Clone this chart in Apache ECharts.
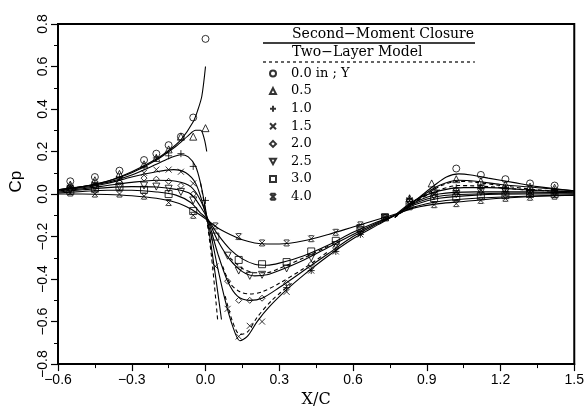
<!DOCTYPE html>
<html>
<head>
<meta charset="utf-8">
<script src="https://cdn.jsdelivr.net/npm/echarts@6/dist/echarts.min.js"></script>
<style>
  html, body { margin: 0; padding: 0; background: #fff; }
  #chart { width: 587px; height: 413px; }
</style>
</head>
<body>
<div id="chart"></div>
<script>
// legend labels (spanwise station Y)
const stationNames = ['0.0 in ; Y', '0.5', '1.0', '1.5', '2.0', '2.5', '3.0', '4.0']

// measured Cp, [x/c, cp]
const expY00 = [[-0.55, 0.06], [-0.45, 0.08], [-0.35, 0.11], [-0.25, 0.16], [-0.2, 0.19], [-0.15, 0.23], [-0.1, 0.27], [-0.05, 0.36], [0.0, 0.73], [1.02, 0.12], [1.12, 0.09], [1.22, 0.07], [1.32, 0.05], [1.42, 0.04]]
const expY05 = [[-0.55, 0.045], [-0.45, 0.065], [-0.35, 0.095], [-0.25, 0.14], [-0.2, 0.17], [-0.15, 0.21], [-0.1, 0.27], [-0.05, 0.27], [0.0, 0.31], [0.83, -0.02], [0.92, 0.05], [1.02, 0.07], [1.12, 0.06], [1.22, 0.045], [1.32, 0.035], [1.42, 0.03]]
const expY10 = [[-0.55, 0.04], [-0.45, 0.055], [-0.35, 0.08], [-0.25, 0.13], [-0.2, 0.17], [-0.15, 0.18], [-0.1, 0.19], [-0.05, 0.13], [0.0, -0.03], [0.33, -0.44], [0.43, -0.36], [0.53, -0.27], [0.63, -0.19], [0.73, -0.11], [0.83, -0.02], [0.93, 0.02], [1.02, 0.03], [1.12, 0.04], [1.22, 0.03], [1.32, 0.02], [1.42, 0.02]]
const expY15 = [[-0.55, 0.03], [-0.45, 0.045], [-0.35, 0.07], [-0.25, 0.1], [-0.2, 0.115], [-0.15, 0.115], [-0.1, 0.105], [-0.05, 0.05], [0.04, -0.34], [0.09, -0.54], [0.135, -0.67], [0.18, -0.62], [0.23, -0.6], [0.33, -0.46], [0.43, -0.36], [0.53, -0.27], [0.63, -0.19], [0.73, -0.11], [0.83, -0.03], [0.93, 0.0], [1.02, 0.01], [1.12, 0.02], [1.22, 0.015], [1.32, 0.01], [1.42, 0.01]]
const expY20 = [[-0.55, 0.025], [-0.45, 0.04], [-0.35, 0.055], [-0.25, 0.075], [-0.2, 0.07], [-0.15, 0.06], [-0.1, 0.04], [-0.05, 0.0], [0.09, -0.41], [0.135, -0.5], [0.18, -0.5], [0.23, -0.49], [0.33, -0.42], [0.43, -0.33], [0.53, -0.25], [0.63, -0.18], [0.73, -0.11], [0.83, -0.03], [0.93, 0.01], [1.02, 0.02], [1.12, 0.03], [1.22, 0.02], [1.32, 0.015], [1.42, 0.01]]
const expY25 = [[-0.55, 0.02], [-0.45, 0.03], [-0.35, 0.035], [-0.25, 0.04], [-0.2, 0.035], [-0.15, 0.025], [-0.1, 0.01], [-0.05, -0.03], [0.09, -0.29], [0.135, -0.36], [0.18, -0.385], [0.23, -0.38], [0.33, -0.35], [0.43, -0.3], [0.53, -0.24], [0.63, -0.17], [0.73, -0.11], [0.83, -0.04], [0.93, -0.01], [1.02, 0.0], [1.12, 0.01], [1.22, 0.01], [1.32, 0.005], [1.42, 0.005]]
const expY30 = [[-0.55, 0.015], [-0.45, 0.025], [-0.35, 0.035], [-0.25, 0.02], [-0.15, 0.0], [-0.05, -0.08], [0.04, -0.2], [0.135, -0.31], [0.23, -0.33], [0.33, -0.32], [0.43, -0.27], [0.53, -0.22], [0.63, -0.16], [0.73, -0.11], [0.83, -0.05], [0.93, -0.02], [1.02, -0.015], [1.12, -0.01], [1.22, -0.005], [1.32, 0.0], [1.42, 0.0]]
const expY40 = [[-0.55, 0.005], [-0.45, 0.0], [-0.35, 0.0], [-0.25, -0.01], [-0.15, -0.04], [-0.05, -0.1], [0.04, -0.15], [0.135, -0.2], [0.23, -0.23], [0.33, -0.23], [0.43, -0.21], [0.53, -0.18], [0.63, -0.145], [0.73, -0.11], [0.83, -0.06], [0.93, -0.05], [1.02, -0.045], [1.12, -0.03], [1.22, -0.02], [1.32, -0.015], [1.42, -0.01]]

// second-moment closure (solid)
const smcY00a = [[-0.6, 0.02], [-0.5, 0.035], [-0.4, 0.06], [-0.3, 0.105], [-0.2, 0.165], [-0.15, 0.205], [-0.1, 0.255], [-0.05, 0.34], [-0.03, 0.4], [-0.015, 0.46], [0.0, 0.6]]
const smcY00b = [[0.77, -0.11], [0.82, -0.06], [0.87, -0.015], [0.93, 0.04], [0.98, 0.08], [1.03, 0.095], [1.08, 0.09], [1.15, 0.075], [1.25, 0.055], [1.35, 0.035], [1.5, 0.015]]
const smcY05a = [[-0.6, 0.02], [-0.5, 0.035], [-0.4, 0.06], [-0.3, 0.1], [-0.2, 0.16], [-0.12, 0.225], [-0.07, 0.275], [-0.04, 0.3], [-0.02, 0.3], [-0.005, 0.26], [0.005, 0.2]]
const smcY05b = [[0.77, -0.11], [0.82, -0.06], [0.88, -0.01], [0.95, 0.04], [1.03, 0.065], [1.1, 0.06], [1.2, 0.045], [1.35, 0.03], [1.5, 0.015]]
const smcY10a = [[-0.6, 0.02], [-0.5, 0.035], [-0.4, 0.055], [-0.3, 0.09], [-0.2, 0.14], [-0.14, 0.172], [-0.1, 0.185], [-0.07, 0.175], [-0.04, 0.13], [-0.02, 0.05], [0.0, -0.07], [0.02, -0.22], [0.04, -0.38], [0.065, -0.59]]
const smcY10b = [[0.77, -0.1], [0.85, -0.03], [0.95, 0.015], [1.05, 0.03], [1.15, 0.03], [1.3, 0.02], [1.5, 0.01]]
const smcY15 = [[-0.6, 0.02], [-0.5, 0.03], [-0.4, 0.05], [-0.3, 0.08], [-0.2, 0.105], [-0.13, 0.115], [-0.08, 0.1], [-0.04, 0.05], [-0.01, -0.05], [0.02, -0.18], [0.05, -0.35], [0.08, -0.5], [0.11, -0.62], [0.14, -0.69], [0.17, -0.67], [0.21, -0.6], [0.26, -0.53], [0.33, -0.45], [0.4, -0.38], [0.5, -0.29], [0.6, -0.21], [0.7, -0.145], [0.77, -0.1], [0.85, -0.04], [0.95, 0.0], [1.1, 0.01], [1.3, 0.01], [1.5, 0.005]]
const smcY20 = [[-0.6, 0.015], [-0.5, 0.025], [-0.4, 0.04], [-0.3, 0.055], [-0.2, 0.065], [-0.12, 0.06], [-0.06, 0.035], [-0.02, -0.03], [0.01, -0.12], [0.05, -0.28], [0.09, -0.41], [0.13, -0.48], [0.18, -0.5], [0.23, -0.49], [0.3, -0.44], [0.4, -0.36], [0.5, -0.28], [0.6, -0.2], [0.7, -0.14], [0.77, -0.1], [0.85, -0.045], [0.95, -0.01], [1.1, 0.0], [1.3, 0.005], [1.5, 0.005]]
const smcY25 = [[-0.6, 0.01], [-0.5, 0.02], [-0.4, 0.03], [-0.3, 0.035], [-0.2, 0.033], [-0.12, 0.022], [-0.06, 0.0], [-0.02, -0.06], [0.01, -0.12], [0.05, -0.22], [0.1, -0.31], [0.15, -0.365], [0.2, -0.385], [0.25, -0.38], [0.3, -0.36], [0.4, -0.31], [0.5, -0.25], [0.6, -0.19], [0.7, -0.135], [0.77, -0.1], [0.85, -0.05], [0.95, -0.02], [1.1, -0.005], [1.3, 0.0], [1.5, 0.0]]
const smcY30 = [[-0.6, 0.005], [-0.5, 0.012], [-0.4, 0.018], [-0.3, 0.018], [-0.2, 0.01], [-0.12, -0.005], [-0.06, -0.04], [-0.02, -0.09], [0.01, -0.12], [0.05, -0.19], [0.1, -0.26], [0.15, -0.305], [0.2, -0.33], [0.25, -0.335], [0.3, -0.325], [0.4, -0.29], [0.5, -0.24], [0.6, -0.18], [0.7, -0.13], [0.77, -0.1], [0.85, -0.06], [0.95, -0.035], [1.1, -0.02], [1.3, -0.01], [1.5, -0.005]]
const smcY40 = [[-0.6, 0.0], [-0.5, 0.0], [-0.4, -0.002], [-0.3, -0.008], [-0.2, -0.02], [-0.12, -0.04], [-0.06, -0.07], [-0.02, -0.1], [0.01, -0.125], [0.05, -0.16], [0.1, -0.19], [0.15, -0.215], [0.2, -0.23], [0.25, -0.235], [0.3, -0.235], [0.4, -0.22], [0.5, -0.19], [0.6, -0.155], [0.7, -0.12], [0.77, -0.095], [0.85, -0.065], [0.95, -0.045], [1.05, -0.035], [1.2, -0.02], [1.35, -0.01], [1.5, -0.005]]

// two-layer model (dashed)
const tlmY00 = [[0.77, -0.11], [0.84, -0.05], [0.9, 0.0], [0.96, 0.04], [1.03, 0.06], [1.1, 0.055], [1.2, 0.04], [1.35, 0.02], [1.5, 0.01]]
const tlmY05 = [[0.77, -0.11], [0.85, -0.04], [0.93, 0.01], [1.03, 0.04], [1.15, 0.035], [1.3, 0.02], [1.5, 0.01]]
const tlmY10 = [[-0.02, 0.05], [0.0, -0.08], [0.025, -0.3], [0.05, -0.6]]
const tlmY15 = [[0.08, -0.48], [0.11, -0.6], [0.14, -0.66], [0.17, -0.65], [0.21, -0.58], [0.27, -0.5], [0.35, -0.42]]
const tlmY20 = [[0.07, -0.34], [0.1, -0.42], [0.14, -0.46], [0.18, -0.47], [0.23, -0.46], [0.3, -0.42], [0.4, -0.35], [0.5, -0.27]]
const tlmY25 = [[0.1, -0.3], [0.15, -0.35], [0.2, -0.37], [0.25, -0.37], [0.3, -0.35], [0.4, -0.3], [0.5, -0.245]]

const markerSets = [expY00, expY05, expY10, expY15, expY20, expY25, expY30, expY40]
const markerSymbols = [
  'circle',
  'triangle',
  'path://M5,0L5,10M0,5L10,5',
  'path://M0,0L10,10M10,0L0,10',
  'diamond',
  'path://M0,0L10,0L5,9Z',
  'rect',
  'path://M0,0L10,10M10,0L0,10M1,0L9,0M1,10L9,10'
]
const markerSizes = [7, 7, 7, 6, 6, 7, 7, 6]

const solidCurves = [smcY00a, smcY00b, smcY05a, smcY05b, smcY10a, smcY10b, smcY15, smcY20, smcY25, smcY30, smcY40]
const dashedCurves = [tlmY00, tlmY05, tlmY10, tlmY15, tlmY20, tlmY25]

const minus = v => String(v).replace('-', '\u2212')
const chart = echarts.init(document.getElementById('chart'))

const lineSeries = (data, i, dashed) => ({
  name: (dashed ? 'tlm' : 'smc') + i,
  type: 'line',
  data,
  smooth: 0.3,
  symbol: 'none',
  silent: true,
  lineStyle: { color: '#000', width: 1.1, type: dashed ? [4, 3] : 'solid' },
  z: 2
})

const series = [
  ...solidCurves.map((d, i) => lineSeries(d, i, false)),
  ...dashedCurves.map((d, i) => lineSeries(d, i, true)),
  ...markerSets.map((d, i) => ({
    name: stationNames[i],
    type: 'scatter',
    data: d,
    symbol: markerSymbols[i],
    symbolSize: markerSizes[i],
    itemStyle: { color: 'rgba(0,0,0,0)', borderColor: '#000', borderWidth: 1 },
    z: 3
  }))
]

chart.setOption({
  animation: false,
  backgroundColor: '#fff',
  grid: { left: 57, right: 10, top: 24, bottom: 47, show: true, borderColor: '#000', borderWidth: 2 },
  xAxis: {
    type: 'value',
    min: -0.6,
    max: 1.5,
    interval: 0.3,
    name: 'X/C',
    nameLocation: 'middle',
    nameGap: 25,
    nameTextStyle: { fontFamily: 'DejaVu Serif', fontSize: 16, color: '#000' },
    axisLine: { onZero: false, lineStyle: { color: '#000', width: 2 } },
    axisTick: { length: 7, lineStyle: { color: '#000', width: 1.2 } },
    minorTick: { show: true, splitNumber: 2, length: 4, lineStyle: { color: '#000', width: 1 } },
    splitLine: { show: false },
    axisLabel: {
      margin: 9,
      fontFamily: 'Liberation Sans',
      fontSize: 14,
      color: '#000',
      formatter: v => minus(v.toFixed(1))
    }
  },
  yAxis: {
    type: 'value',
    min: -0.8,
    max: 0.8,
    interval: 0.2,
    name: 'Cp',
    nameLocation: 'middle',
    nameGap: 33,
    nameRotate: 90,
    nameTextStyle: { fontFamily: 'Liberation Sans', fontSize: 17, color: '#000', padding: [0, 0, 0, 25] },
    axisLine: { onZero: false, lineStyle: { color: '#000', width: 2 } },
    axisTick: { length: 7, lineStyle: { color: '#000', width: 1.2 } },
    minorTick: { show: true, splitNumber: 2, length: 4, lineStyle: { color: '#000', width: 1 } },
    splitLine: { show: false },
    axisLabel: {
      rotate: 90,
      margin: 8,
      fontFamily: 'Liberation Sans',
      fontSize: 14,
      color: '#000',
      formatter: v => minus(v.toFixed(1))
    }
  },
  legend: {
    data: stationNames,
    orient: 'vertical',
    left: 264,
    top: 62,
    itemWidth: 6,
    itemHeight: 6,
    itemGap: 4.6,
    selectedMode: false,
    textStyle: { fontFamily: 'DejaVu Serif', fontSize: 13, color: '#000', padding: [0, 0, 0, 10] }
  },
  graphic: [
    { type: 'line', shape: { x1: 263, y1: 43, x2: 475, y2: 43 }, style: { stroke: '#000', lineWidth: 1.4 } },
    { type: 'line', shape: { x1: 263, y1: 62, x2: 475, y2: 62 }, style: { stroke: '#000', lineWidth: 1.2, lineDash: [3, 3] } },
    { type: 'text', left: 292, top: 27, style: { text: 'Second\u2212Moment Closure', font: '14px "DejaVu Serif"', fill: '#000' } },
    { type: 'text', left: 292, top: 45, style: { text: 'Two\u2212Layer Model', font: '14px "DejaVu Serif"', fill: '#000' } }
  ],
  series
})
</script>
</body>
</html>
